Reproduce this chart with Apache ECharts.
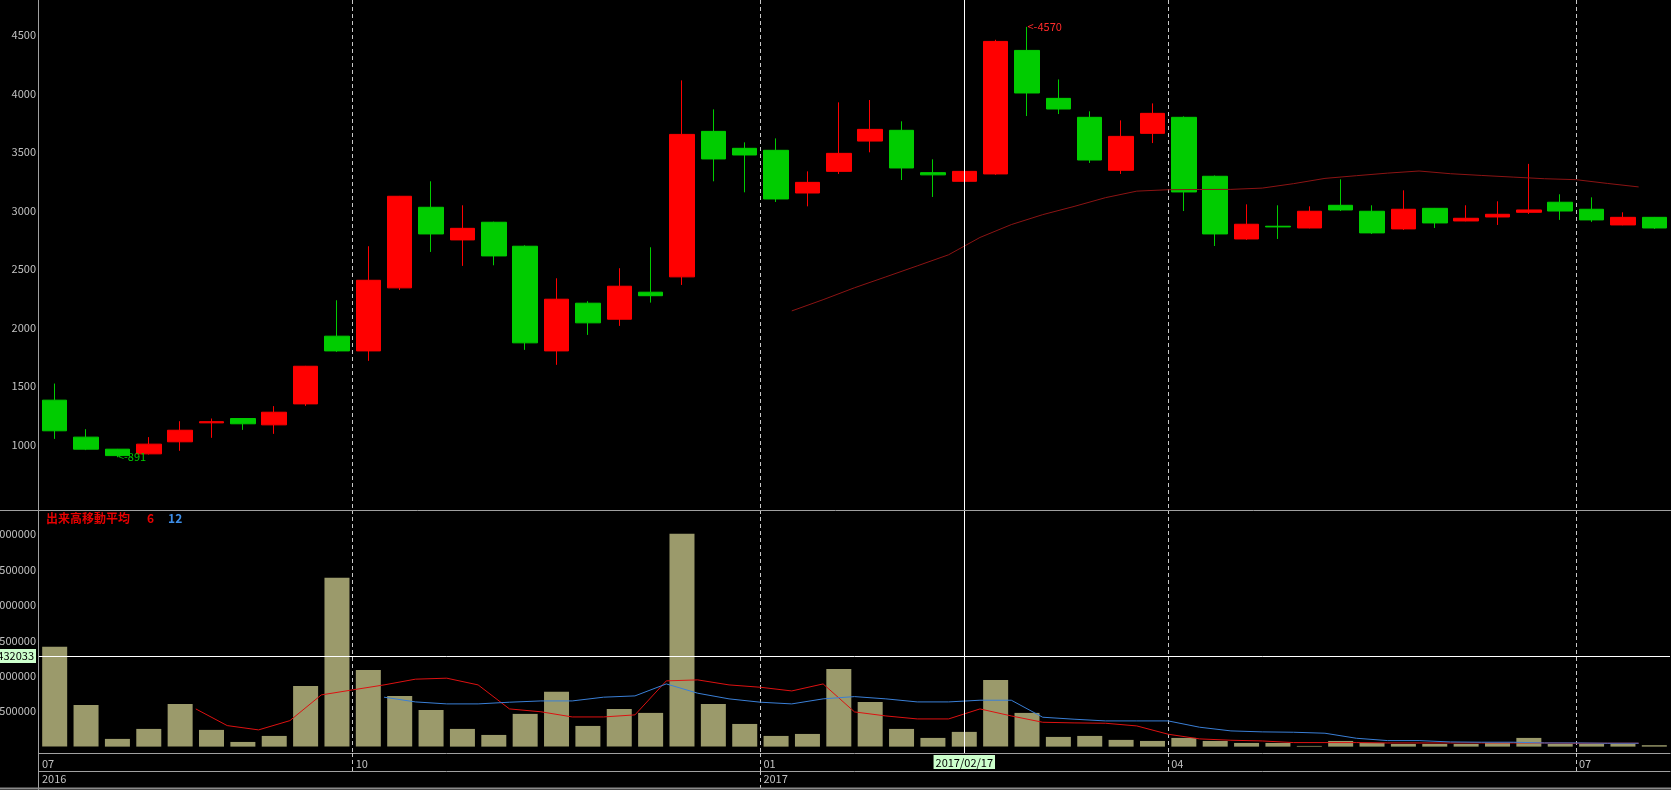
<!DOCTYPE html>
<html>
<head>
<meta charset="utf-8">
<script src="https://cdn.jsdelivr.net/npm/echarts@6/dist/echarts.min.js"></script>
<style>
html,body{margin:0;padding:0;background:#000;}
#c{width:1671px;height:790px;}
</style>
</head>
<body>
<div id="c"></div>
<script>
// ---- data ----
const dates = [
 '2016/07/29','2016/08/05','2016/08/12','2016/08/19','2016/08/26','2016/09/02','2016/09/09','2016/09/16','2016/09/23','2016/09/30',
 '2016/10/07','2016/10/14','2016/10/21','2016/10/28','2016/11/04','2016/11/11','2016/11/18','2016/11/25','2016/12/02','2016/12/09',
 '2016/12/16','2016/12/23','2016/12/30','2017/01/06','2017/01/13','2017/01/20','2017/01/27','2017/02/03','2017/02/10','2017/02/17',
 '2017/02/24','2017/03/03','2017/03/10','2017/03/17','2017/03/24','2017/03/31','2017/04/07','2017/04/14','2017/04/21','2017/04/28',
 '2017/05/05','2017/05/12','2017/05/19','2017/05/26','2017/06/02','2017/06/09','2017/06/16','2017/06/23','2017/06/30','2017/07/07',
 '2017/07/14','2017/07/21'];
const opens  = [1379,1063,960,920,1023,1185,1222,1168,1347,1926,1800,2339,3028,2749,2900,2695,1800,2208,2071,2302,
                2433,3677,3532,3515,3150,3335,3594,3686,3324,3250,3313,4369,3959,3797,3344,3660,3797,3293,2757,2866,
                2851,3045,2994,2843,3019,2911,2945,2985,3071,3011,2877,2942];
const closes = [1117,960,905,1003,1122,1195,1177,1276,1669,1800,2404,3122,2800,2848,2612,1869,2242,2040,2353,2272,
                3651,3441,3475,3099,3241,3489,3694,3364,3305,3335,4446,4005,3868,3432,3634,3831,3159,2800,2883,2860,
                2994,3005,2809,3011,2894,2934,2968,3005,2996,2920,2942,2851];
const lows   = [1048,952,891,915,946,1057,1125,1091,1330,1792,1715,2321,2646,2527,2532,1809,1681,1937,2014,2213,
                2364,3250,3156,3073,3036,3313,3498,3261,3116,3082,3305,3808,3825,3407,3313,3577,2996,2697,2749,2757,
                2848,2996,2800,2834,2851,2908,2877,2971,2920,2903,2874,2843];
const highs  = [1521,1131,962,1063,1199,1222,1224,1328,1672,2233,2695,3125,3250,3045,2905,2703,2421,2225,2507,2686,
                4113,3865,3583,3617,3335,3925,3945,3763,3438,3645,4460,4570,4121,3848,3771,3916,3805,3300,3053,3045,
                3036,3267,3045,3173,3022,3045,3079,3399,3139,3113,2985,2945];
const volumes = [1408000,589000,109000,250000,603000,236000,66000,151000,857000,2383000,
                 1083000,716000,518000,250000,165000,462000,773000,292000,532000,476000,
                 3004000,603000,320000,151000,179000,1097000,631000,250000,123000,208000,
                 942000,476000,137000,151000,95000,80000,123000,80000,52000,52000,
                 10000,80000,52000,38000,38000,38000,52000,123000,38000,38000,38000,20000];
// moving-average lines (first point index given)
const priceMaStart = 24;
const priceMa = [2142,2238,2340,2433,2527,2622,2770,2880,2965,3035,3110,3166,3178,3180,3181,3192,3230,3275,3298,3320,
                 3338,3315,3300,3286,3272,3264,3232,3202];
const volMa6Start = 5;
const volMa6 = [532000,297000,236000,367000,730000,801000,871000,952000,966000,871000,532000,492000,419000,419000,448000,
                928000,942000,871000,838000,786000,885000,490000,433000,391000,391000,532000,433000,344000,335000,330000,
                292000,175000,109000,90000,80000,57000,57000,57000,52000,52000,52000,52000,52000,52000,48000,48000,48000];
const volMa12Start = 11;
const volMa12 = [698000,631000,603000,603000,627000,645000,645000,698000,716000,885000,754000,674000,627000,603000,674000,
                 706000,674000,631000,631000,655000,655000,415000,387000,363000,363000,363000,274000,222000,208000,203000,
                 189000,118000,85000,85000,66000,62000,62000,52000,52000,48000,48000];
const monthLabels = {0:'07',10:'10',23:'01',36:'04',49:'07'};
const yearLabels = {0:'2016',23:'2017'};
const priceLabelStep = 500;
const volLabelStep = 500000;
const crosshairDate = '2017/02/17';
const crosshairVolLevel = 1279000;
const crosshairVolText = '1432033';
const legendName = '出来高移動平均';
const legendPeriods = ['6','12'];

// ---- build ----
const boundaries = [];
for (let i = 0; i <= dates.length; i++) boundaries.push(String(i));
function pad(start, arr){ const a = new Array(start).fill(null).concat(arr); while (a.length < boundaries.length) a.push(null); return a; }
const candleData = dates.map((d,i)=>[opens[i], closes[i], lows[i], highs[i]]);
let lowIdx = 0, highIdx = 0;
lows.forEach((v,i)=>{ if (v < lows[lowIdx]) lowIdx = i; });
highs.forEach((v,i)=>{ if (v > highs[highIdx]) highIdx = i; });

const numFont = 'Noto Sans CJK JP';
const gray = '#c0c0c0';
const lineGray = '#a0a0a0';
const dash = {color:'#c8c8c8', width:1, type:[4,3]};
const isMonth = i => monthLabels[i] !== undefined && i !== 0;
const UP = '#ff0000', DOWN = '#00cc00';

const chart = echarts.init(document.getElementById('c'), null, {renderer:'canvas'});
chart.setOption({
  animation: false,
  backgroundColor: '#000',
  title: {
    text: '{a|' + legendName + '}{b|' + legendPeriods[0] + '}{c|' + legendPeriods[1] + '}',
    left: 46, top: 512, padding: 0,
    textStyle: { rich: {
      a: {color:'#e60000', fontSize:12, fontFamily:numFont},
      b: {color:'#e60000', fontSize:12, fontFamily:numFont, padding:[0,0,0,17]},
      c: {color:'#3d8ee8', fontSize:12, fontFamily:numFont, padding:[0,0,0,14]}
    }}
  },
  grid: [
    {left:39, right:1, top:0, height:510, outerBoundsMode:'none', containLabel:false},
    {left:39, right:1, top:510, height:243, outerBoundsMode:'none', containLabel:false}
  ],
  xAxis: [
    {type:'category', gridIndex:0, data:dates, boundaryGap:true, position:'bottom', show:false},
    {type:'category', gridIndex:0, data:boundaries, boundaryGap:false, position:'bottom',
     axisLine:{show:false, onZero:false}, axisTick:{show:false}, axisLabel:{show:false},
     splitLine:{show:true, interval:(i)=>isMonth(i), lineStyle:dash}},
    {type:'category', gridIndex:1, data:dates, boundaryGap:true, position:'bottom', show:false, axisLine:{onZero:false}},
    {type:'category', gridIndex:1, data:boundaries, boundaryGap:false, position:'bottom',
     axisLine:{show:true, onZero:false, lineStyle:{color:lineGray, width:1}},
     axisTick:{show:true, interval:(i)=>isMonth(i), length:18, inside:false, lineStyle:dash},
     axisLabel:{show:true, interval:(i)=>monthLabels[i]!==undefined, formatter:(v)=>monthLabels[+v]||'',
       align:'left', margin:5, padding:[0,0,0,3], color:gray, fontSize:11, fontFamily:numFont},
     splitLine:{show:true, interval:(i)=>isMonth(i), lineStyle:dash}},
    {type:'category', gridIndex:1, data:boundaries, boundaryGap:false, position:'bottom', offset:18,
     axisLine:{show:true, onZero:false, lineStyle:{color:lineGray, width:1}},
     axisTick:{show:true, interval:(i)=>yearLabels[i]!==undefined && i!==0, length:17, inside:false, lineStyle:dash},
     axisLabel:{show:true, interval:(i)=>yearLabels[i]!==undefined, formatter:(v)=>yearLabels[+v]||'',
       align:'left', margin:2, padding:[0,0,0,3], color:gray, fontSize:11, fontFamily:numFont},
     splitLine:{show:false}}
  ],
  yAxis: [
    {type:'value', gridIndex:0, min:440, max:4800, interval:20, position:'left',
     axisLine:{show:false}, axisTick:{show:false}, splitLine:{show:false},
     axisLabel:{margin:3, color:gray, fontSize:11, fontFamily:numFont,
       formatter:(v)=>{const r=Math.round(v); return (r%priceLabelStep===0 && r>=1000) ? String(r) : '';}}},
    {type:'value', gridIndex:1, min:-90000, max:3340000, interval:10000, position:'left',
     axisLine:{show:false}, axisTick:{show:false}, splitLine:{show:false},
     axisLabel:{margin:3, color:gray, fontSize:11, fontFamily:numFont,
       formatter:(v)=>{const r=Math.round(v); return (r%volLabelStep===0 && r>0) ? String(r) : '';}}}
  ],
  series: [
    {type:'candlestick', name:'price', xAxisIndex:0, yAxisIndex:0, data:candleData, barWidth:25,
     itemStyle:{color:UP, color0:DOWN, borderColor:UP, borderColor0:DOWN, borderWidth:1},
     markPoint:{symbol:'circle', symbolSize:1, itemStyle:{color:'rgba(0,0,0,0)'}, silent:true, animation:false,
       data:[
         {coord:[dates[lowIdx], lows[lowIdx]], label:{show:true, position:'right', distance:0, formatter:'<-'+lows[lowIdx], color:DOWN, fontSize:11, fontFamily:numFont}},
         {coord:[dates[highIdx], highs[highIdx]], label:{show:true, position:'right', distance:0, formatter:'<-'+highs[highIdx], color:'#ff2a2a', fontSize:11, fontFamily:numFont}}
       ]},
     markLine:{symbol:['none','none'], silent:true, animation:false, label:{show:false},
       lineStyle:{color:'#ffffff', width:1, type:'solid'},
       data:[{xAxis:crosshairDate}]}
    },
    {type:'line', name:'ma', xAxisIndex:1, yAxisIndex:0, data:pad(priceMaStart, priceMa), showSymbol:false,
     lineStyle:{color:'#8c1414', width:1}, z:3},
    {type:'bar', name:'volume', xAxisIndex:2, yAxisIndex:1, data:volumes, barWidth:25,
     itemStyle:{color:'#9b9a6b'},
     markLine:{symbol:['none','none'], silent:true, animation:false,
       lineStyle:{color:'#ffffff', width:1, type:'solid'},
       data:[
         {xAxis:crosshairDate, label:{show:true, position:'start', distance:2, formatter:crosshairDate,
           backgroundColor:'#ccffcc', color:'#000', padding:[2,2,1,2], fontSize:11, fontFamily:numFont}},
         {yAxis:crosshairVolLevel, label:{show:true, position:'start', distance:3, formatter:crosshairVolText,
           backgroundColor:'#ccffcc', color:'#000', padding:[2,2,1,2], fontSize:11, fontFamily:numFont}}
       ]}
    },
    {type:'line', name:'vma6', xAxisIndex:3, yAxisIndex:1, data:pad(volMa6Start, volMa6), showSymbol:false,
     lineStyle:{color:'#dd1111', width:1}, z:3},
    {type:'line', name:'vma12', xAxisIndex:3, yAxisIndex:1, data:pad(volMa12Start, volMa12), showSymbol:false,
     lineStyle:{color:'#3a7fd6', width:1}, z:3}
  ],
  graphic: [
    {type:'line', shape:{x1:38.5, y1:0, x2:38.5, y2:790}, style:{stroke:lineGray, lineWidth:1}, silent:true, z:10},
    {type:'line', shape:{x1:0, y1:510.5, x2:1671, y2:510.5}, style:{stroke:lineGray, lineWidth:1}, silent:true, z:10},
    {type:'line', shape:{x1:0, y1:788.5, x2:1671, y2:788.5}, style:{stroke:'#8a8a8a', lineWidth:2}, silent:true, z:10}
  ]
});
</script>
</body>
</html>
